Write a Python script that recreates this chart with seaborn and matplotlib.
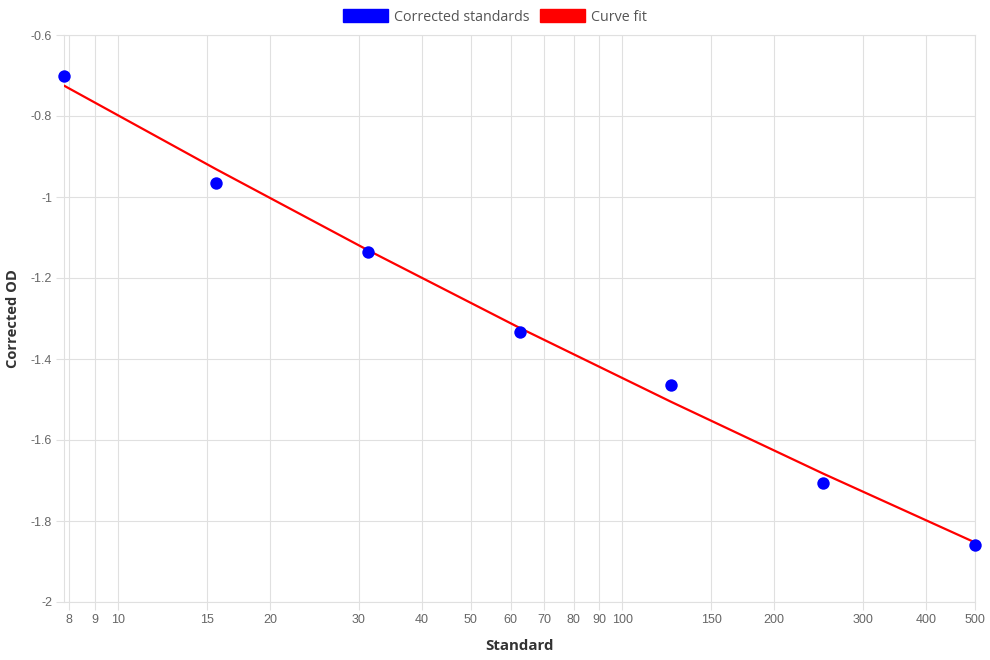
import numpy as np
import pandas as pd
import matplotlib
matplotlib.use("Agg")
import matplotlib.pyplot as plt
from matplotlib.patches import Patch
from matplotlib.ticker import FixedLocator, NullLocator, FuncFormatter
import seaborn as sns

# standards (serial dilution) and measured corrected OD
standards = [7.8125, 15.625, 31.25, 62.5, 125, 250, 500]
corrected_od = [-0.701, -0.966, -1.136, -1.334, -1.464, -1.707, -1.859]
# curve fit evaluated at the standards
fit_od = [-0.725, -0.931, -1.131, -1.323, -1.506, -1.683, -1.853]

x_ticks = [8, 9, 10, 15, 20, 30, 40, 50, 60, 70, 80, 90, 100, 150, 200, 300, 400, 500]
y_ticks = [-0.6, -0.8, -1.0, -1.2, -1.4, -1.6, -1.8, -2.0]

grid_c = "#e0e0e0"
text_c = "#666666"

def main():
    sns.set_theme(style="whitegrid")
    plt.rcParams["font.family"] = ["Liberation Sans", "DejaVu Sans"]

    df_pts = pd.DataFrame({"Standard": standards, "OD": corrected_od})
    df_fit = pd.DataFrame({"Standard": standards, "OD": fit_od})

    fig = plt.figure(figsize=(9.9, 6.6), dpi=100)
    ax = fig.add_axes([64 / 990, 58 / 660, 911 / 990, 567 / 660])

    sns.lineplot(data=df_fit, x="Standard", y="OD", ax=ax, color="#ff0000",
                 linewidth=1.6, zorder=3, sort=True)
    sns.scatterplot(data=df_pts, x="Standard", y="OD", ax=ax, color="#0000ff",
                    s=80, edgecolor="#0000ff", linewidth=0, zorder=4, clip_on=False)

    ax.set_xscale("log")
    ax.set_xlim(7.8125, 500)
    ax.set_ylim(-2, -0.6)
    ax.xaxis.set_major_locator(FixedLocator(x_ticks))
    ax.xaxis.set_minor_locator(NullLocator())
    ax.xaxis.set_major_formatter(FuncFormatter(lambda v, p: f"{v:g}"))
    ax.yaxis.set_major_locator(FixedLocator(y_ticks))
    ax.yaxis.set_major_formatter(FuncFormatter(lambda v, p: f"{v:g}"))

    ax.grid(True, color=grid_c, linewidth=0.8)
    for s in ax.spines.values():
        s.set_color(grid_c)
        s.set_linewidth(0.8)
    ax.tick_params(axis="both", length=6, width=0.8, color=grid_c,
                   labelcolor=text_c, labelsize=9, pad=2.5)
    ax.tick_params(axis="x", bottom=True)
    ax.tick_params(axis="y", left=True)

    ax.set_xlabel("Standard", fontsize=10.8, fontweight="bold", color="#333333",
                  family=["Open Sans", "DejaVu Sans"], va="center")
    ax.xaxis.set_label_coords(0.5, (602 - 646) / 567)
    ax.set_ylabel("Corrected OD", fontsize=10.6, fontweight="bold", color="#333333",
                  family=["Open Sans", "DejaVu Sans"], va="center")
    ax.yaxis.set_label_coords((13 - 64) / 911, 0.5)

    handles = [Patch(facecolor="#0000ff", edgecolor="#0000ff", label="Corrected standards"),
               Patch(facecolor="#ff0000", edgecolor="#ff0000", label="Curve fit")]
    fig.legend(handles=handles, loc="center", bbox_to_anchor=(0.5, 1 - 17 / 660),
               ncol=2, frameon=False, handlelength=3.1, handleheight=1.0,
               handletextpad=0.45, columnspacing=0.75, borderaxespad=0,
               prop={"family": ["Open Sans", "DejaVu Sans"], "size": 10.3},
               labelcolor="#555555")

    fig.savefig("out.png", dpi=100)

if __name__ == "__main__":
    main()
